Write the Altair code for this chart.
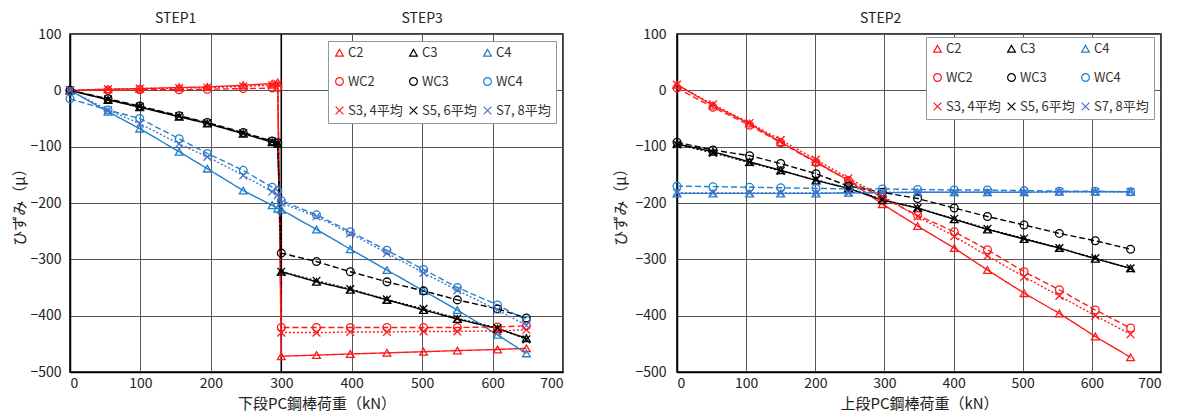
import altair as alt
import pandas as pd

FONT = "Noto Sans CJK JP"

series = ["C2", "C3", "C4", "WC2", "WC3", "WC4", "S3, 4平均", "S5, 6平均", "S7, 8平均"]
colors = ["#FF1A1A", "#000000", "#1F80CC", "#FF1A1A", "#000000", "#1F80CC", "#FF1A1A", "#000000", "#4F6FD0"]
XPATH = "M-1,-1L1,1M-1,1L1,-1"
shapes = ["triangle-up"] * 3 + ["circle"] * 3 + [XPATH] * 3
dashes = [[1, 0]] * 3 + [[6, 3]] * 3 + [[2, 2]] * 3

# ---- left panel (STEP1 -> STEP3), lower PC bar load ----
left_x = [0, 54, 99, 155, 195, 246, 287, 295, 300, 350, 398, 450, 502, 550, 607, 648]
left_C2 = [0, 2, 3, 5, 6, 9, 12, 14, -472, -470, -468, -466, -464, -462, -460, -458]
left_C3 = [0, -17, -30, -47, -59, -77, -92, -95, -322, -340, -354, -372, -390, -406, -423, -440]
left_C4 = [0, -38, -68, -109, -139, -178, -204, -210, -212, -247, -282, -319, -356, -390, -434, -467]
left_WC2 = [0, 0, 1, 1, 2, 3, 4, 5, -421, -421, -421, -421, -421, -421, -420, -418]
left_WC3 = [0, -15, -28, -45, -57, -75, -90, -93, -289, -304, -322, -340, -356, -372, -388, -404]
left_WC4 = [-15, -35, -50, -86, -112, -142, -172, -178, -196, -221, -251, -284, -318, -350, -381, -408]
left_S34 = [0, 2, 3, 4, 5, 7, 9, 11, -430, -430, -429, -429, -428, -428, -427, -425]
left_S56 = [0, -16, -29, -46, -58, -76, -91, -94, -322, -338, -353, -371, -388, -405, -422, -442]
left_S78 = [0, -35, -59, -95, -118, -151, -180, -186, -200, -224, -254, -289, -324, -355, -390, -417]

# ---- right panel (STEP2), upper PC bar load ----
right_x = [0, 52, 105, 150, 201, 248, 297, 348, 401, 449, 502, 553, 605, 656]
right_C2 = [10, -27, -59, -92, -127, -160, -202, -241, -280, -319, -360, -396, -437, -474]
right_C3 = [-95, -109, -127, -142, -160, -174, -195, -209, -229, -247, -264, -280, -299, -316]
right_C4 = [-183, -183, -183, -183, -183, -182, -182, -181, -181, -181, -181, -180, -180, -180]
right_WC2 = [4, -30, -62, -93, -128, -160, -190, -222, -251, -283, -322, -354, -390, -422]
right_WC3 = [-92, -106, -116, -130, -148, -170, -181, -192, -209, -224, -239, -254, -267, -282]
right_WC4 = [-170, -171, -172, -173, -174, -175, -175, -176, -177, -177, -178, -179, -179, -180]
right_S34 = [10, -25, -58, -88, -123, -156, -188, -224, -259, -294, -331, -365, -400, -433]
right_S56 = [-96, -111, -128, -143, -159, -174, -194, -209, -228, -246, -263, -280, -298, -316]
right_S78 = [-182, -182, -182, -182, -182, -182, -181, -181, -181, -181, -181, -180, -180, -180]

step_names = ["STEP1", "STEP3"]
step_ranges = [(0, 300), (300, 700)]
divider_x = [300]

x_ticks = list(range(0, 701, 100))
y_ticks = list(range(-500, 101, 100))

color_of = dict(zip(series, colors))
dash_of = dict(zip(series, dashes))
shape_of = dict(zip(series, shapes))

# legend fills column by column: order so that rows read C*, WC*, S*
legend_order = [series[r * 3 + c] for c in range(3) for r in range(3)]


def make_df(x, ys):
    rows = []
    for name, vals in zip(series, ys):
        for i, (xx, yy) in enumerate(zip(x, vals)):
            rows.append({"series": name, "x": xx, "y": yy, "order": i,
                         "col": color_of[name], "dash": dash_of[name]})
    return pd.DataFrame(rows)


left_df = make_df(left_x, [left_C2, left_C3, left_C4, left_WC2, left_WC3, left_WC4, left_S34, left_S56, left_S78])
right_df = make_df(right_x, [right_C2, right_C3, right_C4, right_WC2, right_WC3, right_WC4, right_S34, right_S56, right_S78])

color_scale = alt.Scale(domain=legend_order, range=[color_of[s] for s in legend_order])
shape_scale = alt.Scale(domain=legend_order, range=[shape_of[s] for s in legend_order])


def panel(df, xtitle, legend_x, legend_y, label_pad, title_pad):
    xenc = alt.X("x:Q", scale=alt.Scale(domain=[0, 700], nice=False),
                 axis=alt.Axis(values=x_ticks, title=xtitle, labelPadding=4, titlePadding=6))
    yenc = alt.Y("y:Q", scale=alt.Scale(domain=[-500, 100], nice=False),
                 axis=alt.Axis(values=y_ticks, title="ひずみ（μ）", labelPadding=label_pad, titlePadding=title_pad))
    base = alt.Chart(df)
    lines = base.mark_line(strokeWidth=1.4).encode(
        x=xenc, y=yenc,
        color=alt.Color("col:N", scale=None),
        strokeDash=alt.StrokeDash("dash", scale=None),
        detail="series:N",
        order="order:Q",
    )
    leg = alt.Legend(
        title=None, orient="none", legendX=legend_x, legendY=legend_y, columns=3,
        strokeColor="#8a9aaa", fillColor="white", padding=5, columnPadding=4, rowPadding=15,
        labelFont=FONT, labelFontSize=13, labelColor="#333333", symbolSize=60,
        symbolStrokeWidth=1.2, labelOffset=2, symbolFillColor="transparent",
    )
    points = base.mark_point(filled=False, size=60, strokeWidth=1.3, opacity=1).encode(
        x=xenc, y=yenc,
        color=alt.Color("series:N", scale=color_scale, legend=leg),
        shape=alt.Shape("series:N", scale=shape_scale, legend=leg),
    )
    return lines, points


l_lines, l_points = panel(left_df, "下段PC鋼棒荷重（kN）", 258, 7, 9, 2)
r_lines, r_points = panel(right_df, "上段PC鋼棒荷重（kN）", 249, 3, 11, 6)

div_df = pd.DataFrame({"x": divider_x})
divider = alt.Chart(div_df).mark_rule(color="black", strokeWidth=1.6).encode(x="x:Q")

steps_df = pd.DataFrame({
    "name": step_names,
    "mid": [(a + b) / 2 for a, b in step_ranges],
})
step_text = alt.Chart(steps_df).mark_text(font=FONT, fontSize=14, color="#222222", baseline="bottom").encode(
    x="mid:Q", y=alt.value(-8), text="name:N"
)

left = alt.layer(divider, l_lines, l_points, step_text).properties(width=493, height=338)
right = alt.layer(r_lines, r_points).properties(
    width=484, height=338,
    title=alt.TitleParams("STEP2", anchor="start", frame="group", dx=183, fontSize=14, font=FONT,
                          fontWeight="normal", color="#222222", offset=1),
)

chart = alt.hconcat(left, right, spacing=49).resolve_scale(
    color="independent", shape="independent"
).resolve_legend(
    color="independent", shape="independent"
).properties(
    padding={"left": 4, "top": 3, "right": 2, "bottom": 0}
).configure_axis(
    labelFont=FONT, labelFontSize=14, labelColor="#222222",
    titleFont=FONT, titleFontSize=15, titleColor="#222222", titleFontWeight="normal",
    ticks=False, grid=True, gridColor="#555555", gridWidth=1,
    domainColor="black", domainWidth=1.5,
).configure_view(stroke="black", strokeWidth=1.5)

chart.save("out.html", embed_options={"renderer": "svg", "actions": False})
